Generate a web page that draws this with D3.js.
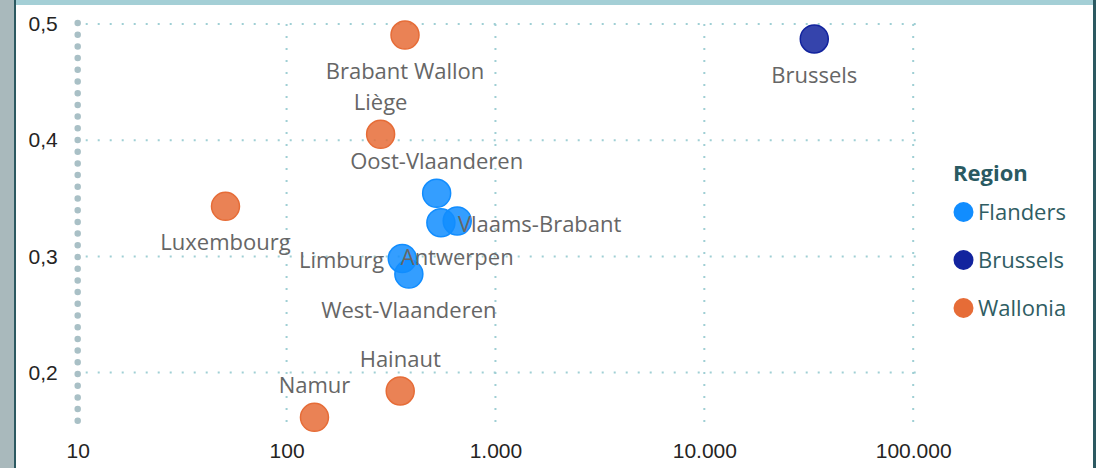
<!DOCTYPE html>
<html>
<head>
<meta charset="utf-8">
<script src="https://cdn.jsdelivr.net/npm/d3@7"></script>
<style>
    html, body { margin: 0; padding: 0; background: #fff; }
    svg { display: block; font-family: 'Open Sans', 'Noto Sans', sans-serif; }
</style>
</head>
<body>
<div id="chart"></div>
<script>
// provinces, x on log scale, y linear
const provinces = ['Brabant Wallon', 'Liège', 'Brussels', 'Luxembourg', 'Namur', 'Hainaut',
                   'Oost-Vlaanderen', 'Vlaams-Brabant', 'Antwerpen', 'Limburg', 'West-Vlaanderen'];
const regionOf = ['Wallonia', 'Wallonia', 'Brussels', 'Wallonia', 'Wallonia', 'Wallonia',
                  'Flanders', 'Flanders', 'Flanders', 'Flanders', 'Flanders'];
const xValues = [369, 282, 33600, 51, 136, 350, 523, 548, 656, 358, 385];
const yValues = [0.4905, 0.4051, 0.4871, 0.3431, 0.1615, 0.1842, 0.3543, 0.3290, 0.3305, 0.2982, 0.2848];
const labelSide = ['below', 'above', 'below', 'below', 'above', 'above',
                   'above', 'right', 'below', 'left', 'below'];

const regions = ['Flanders', 'Brussels', 'Wallonia'];
const regionColors = ['#118DFF', '#12239E', '#E66C37'];
const xTicks = [10, 100, 1000, 10000, 100000];
const yTicks = [0.2, 0.3, 0.4, 0.5];

const W = 1096, H = 468;
const svg = d3.select('#chart').append('svg')
    .attr('width', W)
    .attr('height', H);

// frame
svg.append('rect').attr('x', 0).attr('y', 0).attr('width', 14).attr('height', H).style('fill', '#a9b9bc');
svg.append('rect').attr('x', 14).attr('y', 0).attr('width', 2).attr('height', H).style('fill', '#2c5961');
svg.append('rect').attr('x', 16).attr('y', 0).attr('width', 1077).attr('height', 5).style('fill', '#a4cfd6');
svg.append('rect').attr('x', 1093).attr('y', 0).attr('width', 3).attr('height', H).style('fill', '#2c5961');

const locale = d3.formatLocale({ decimal: ',', thousands: '.', grouping: [3], currency: ['', ''] });

const scaleX = d3.scaleLog().domain([10, 100000]).range([77.7, 913.2]);
const scaleY = d3.scaleLinear().domain([0.15, 0.5]).range([430.7, 24]);
const color = d3.scaleOrdinal().domain(regions).range(regionColors);

const grid = svg.append('g');
grid.selectAll('line.h')
    .data(yTicks)
    .enter().append('line')
        .attr('x1', scaleX(10) + 8).attr('x2', scaleX(100000) + 6)
        .attr('y1', d => scaleY(d)).attr('y2', d => scaleY(d))
        .style('stroke', '#9fcfd4').style('stroke-width', 2)
        .style('stroke-dasharray', '2 10');
grid.selectAll('line.v')
    .data(xTicks.slice(1))
    .enter().append('line')
        .attr('x1', d => scaleX(d)).attr('x2', d => scaleX(d))
        .attr('y1', scaleY(0.5)).attr('y2', scaleY(0.15))
        .style('stroke', '#9fcfd4').style('stroke-width', 2)
        .style('stroke-dasharray', '2 10');

// y axis
const axisY = svg.append('g')
    .attr('transform', 'translate(' + scaleX(10) + ', 0)')
    .call(d3.axisLeft(scaleY).tickValues(yTicks).tickSize(0).tickPadding(20)
            .tickFormat(locale.format('.1f')));
axisY.select('.domain').remove();
axisY.append('line')
    .attr('x1', 0).attr('x2', 0)
    .attr('y1', scaleY(0.5) - 1).attr('y2', scaleY(0.15))
    .style('stroke', '#a9c0c6').style('stroke-width', 6.5)
    .style('stroke-linecap', 'round').style('stroke-dasharray', '0 11.7');
axisY.selectAll('text').style('font-size', '21px').style('fill', '#252423');

// x axis
const axisX = svg.append('g')
    .attr('transform', 'translate(0, ' + scaleY(0.15) + ')')
    .call(d3.axisBottom(scaleX).tickValues(xTicks).tickSize(0).tickPadding(12)
            .tickFormat(locale.format(',.0f')));
axisX.select('.domain').remove();
axisX.selectAll('text').style('font-size', '21px').style('fill', '#252423');

// points
const pts = provinces.map((p, i) => ({ name: p, region: regionOf[i], x: xValues[i], y: yValues[i], side: labelSide[i] }));

svg.append('g').selectAll('circle')
    .data(pts)
    .enter().append('circle')
        .attr('cx', d => scaleX(d.x))
        .attr('cy', d => scaleY(d.y))
        .attr('r', 14)
        .style('fill', d => color(d.region))
        .style('fill-opacity', 0.85)
        .style('stroke', d => color(d.region))
        .style('stroke-width', 1.5);

const r = 14;
svg.append('g').selectAll('text')
    .data(pts)
    .enter().append('text')
        .attr('x', d => scaleX(d.x) + (d.side === 'right' ? r + 3 : d.side === 'left' ? -r - 4 : 0))
        .attr('y', d => scaleY(d.y) + (d.side === 'above' ? -32 : d.side === 'below' ? 36 : 2))
        .attr('dy', '0.35em')
        .attr('text-anchor', d => d.side === 'right' ? 'start' : d.side === 'left' ? 'end' : 'middle')
        .style('font-size', '22px')
        .style('fill', '#666666')
        .text(d => d.name);

// legend
const legend = svg.append('g').attr('transform', 'translate(953, 0)');
legend.append('text')
    .attr('x', 0).attr('y', 181)
    .style('font-size', '22px').style('font-weight', 'bold').style('fill', '#2a5a62')
    .text('Region');
const item = legend.selectAll('g.item')
    .data(regions)
    .enter().append('g')
        .attr('transform', (d, i) => 'translate(0, ' + (212 + i * 48) + ')');
item.append('circle')
    .attr('cx', 10.5).attr('cy', 0).attr('r', 10)
    .style('fill', d => color(d));
item.append('text')
    .attr('x', 25).attr('y', 0).attr('dy', '0.35em')
    .style('font-size', '22px').style('fill', '#2f5d63')
    .text(d => d);
</script>
</body>
</html>
